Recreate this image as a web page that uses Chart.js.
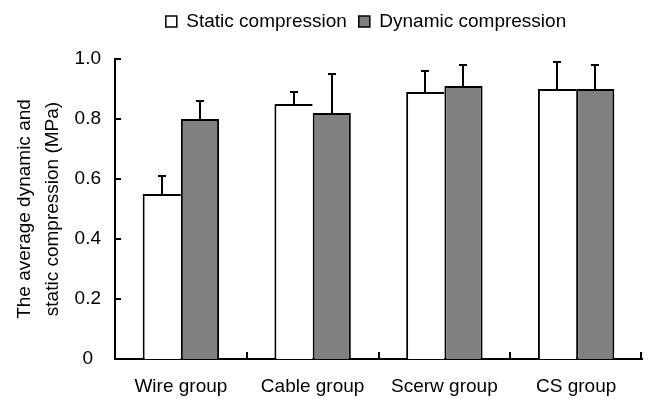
<!DOCTYPE html>
<html>
<head>
<meta charset="utf-8">
<style>
  html, body { margin: 0; padding: 0; background: #fff; }
  #wrap { width: 648px; height: 399px; }
</style>
<script src="https://cdn.jsdelivr.net/npm/chart.js@4/dist/chart.umd.min.js"></script>
</head>
<body>
<div id="wrap"><canvas id="c" width="648" height="399"></canvas></div>
<script>
// Group labels along the x axis
const groups = ['Wire group', 'Cable group', 'Scerw group', 'CS group'];

// Mean compression (MPa) and the standard deviations drawn as upper error bars
const staticMean = [0.55, 0.85, 0.89, 0.90];
const staticSD   = [0.06, 0.04, 0.07, 0.09];
const dynamicMean = [0.80, 0.82, 0.91, 0.90];
const dynamicSD   = [0.06, 0.13, 0.07, 0.08];

// Y axis tick range
const yMin = 0, yMax = 1.0, yStep = 0.2;

const FONT = 'Liberation Sans, Arial, Helvetica, sans-serif';
const FONT_SIZE = 19;
const INK = '#000';

// Upward error bars with a short cap, drawn on top of each bar
const errorBars = {
  id: 'errorBars',
  afterDatasetsDraw(chart) {
    const { ctx } = chart;
    const y = chart.scales.y;
    ctx.save();
    ctx.strokeStyle = INK;
    ctx.lineWidth = 2;
    chart.data.datasets.forEach((ds, di) => {
      const meta = chart.getDatasetMeta(di);
      meta.data.forEach((bar, i) => {
        const top = y.getPixelForValue(ds.data[i] + ds.errors[i]);
        const x = Math.round(bar.x);
        ctx.beginPath();
        ctx.moveTo(x, bar.y);
        ctx.lineTo(x, top);
        ctx.moveTo(x - 4, top);
        ctx.lineTo(x + 4, top);
        ctx.stroke();
      });
    });
    ctx.restore();
  }
};

// Inward tick marks: on the y axis at each tick value, on the x axis between groups
const innerTicks = {
  id: 'innerTicks',
  afterDraw(chart) {
    const { ctx, chartArea } = chart;
    const x = chart.scales.x, y = chart.scales.y;
    ctx.save();
    ctx.strokeStyle = INK;
    ctx.lineWidth = 2;
    ctx.beginPath();
    y.ticks.forEach(t => {
      const py = Math.round(y.getPixelForValue(t.value));
      ctx.moveTo(chartArea.left, py);
      ctx.lineTo(chartArea.left + 6, py);
    });
    for (let i = 0; i < groups.length; i++) {
      const px = i < groups.length - 1
        ? Math.round((x.getPixelForValue(i) + x.getPixelForValue(i + 1)) / 2)
        : chartArea.right - 1;
      ctx.moveTo(px, chartArea.bottom);
      ctx.lineTo(px, chartArea.bottom - 7);
    }
    ctx.stroke();
    ctx.restore();
  }
};

// Fixed legend band height and centre
const legendBand = {
  id: 'legendBand',
  beforeInit(chart) {
    const fit = chart.legend.fit;
    chart.legend.fit = function () {
      fit.call(this);
      this.height = 59;
    };
  },
  afterLayout(chart) {
    const lg = chart.legend;
    const shift = 366 - (lg.left + lg.right) / 2;
    lg.left += shift;
    lg.right += shift;
  }
};

new Chart(document.getElementById('c'), {
  type: 'bar',
  data: {
    labels: groups,
    datasets: [
      {
        label: 'Static compression',
        data: staticMean,
        errors: staticSD,
        backgroundColor: '#ffffff',
        borderColor: INK,
        borderWidth: { left: 2, top: 2, right: 0, bottom: 0 },
        borderSkipped: false
      },
      {
        label: 'Dynamic compression',
        data: dynamicMean,
        errors: dynamicSD,
        backgroundColor: '#808080',
        borderColor: INK,
        borderWidth: { left: 2, top: 2, right: 2, bottom: 0 },
        borderSkipped: false
      }
    ]
  },
  options: {
    responsive: false,
    animation: false,
    devicePixelRatio: 1,
    layout: { padding: { left: 0, right: 6, top: 0, bottom: 0 } },
    datasets: { bar: { categoryPercentage: 0.58, barPercentage: 1.0 } },
    plugins: {
      tooltip: { enabled: false },
      legend: {
        position: 'top',
        labels: {
          font: { family: FONT, size: FONT_SIZE },
          color: INK,
          boxWidth: 11,
          boxHeight: 11,
          padding: 12,
          generateLabels(chart) {
            return chart.data.datasets.map((ds, i) => ({
              text: ds.label,
              fillStyle: ds.backgroundColor,
              strokeStyle: INK,
              lineWidth: 1.5,
              fontColor: INK,
              hidden: false,
              datasetIndex: i
            }));
          }
        }
      }
    },
    scales: {
      x: {
        grid: { display: false, drawTicks: false },
        border: { display: true, color: INK, width: 2 },
        ticks: { color: INK, font: { family: FONT, size: FONT_SIZE }, padding: 16, maxRotation: 0 },
        afterFit(scale) { scale.height = 40; }
      },
      y: {
        min: yMin,
        max: yMax,
        grid: { display: false, drawTicks: false },
        border: { display: true, color: INK, width: 2 },
        ticks: {
          stepSize: yStep,
          color: INK,
          font: { family: FONT, size: FONT_SIZE },
          padding: 14,
          crossAlign: 'center',
          callback: v => (v === 0 ? '0' : v.toFixed(1))
        },
        title: {
          display: true,
          text: ['The average dynamic and', 'static compression (MPa)'],
          color: INK,
          font: { family: FONT, size: FONT_SIZE, lineHeight: 1.45 },
          padding: { top: 11, bottom: 0 }
        },
        afterFit(scale) { scale.width = 115; }
      }
    }
  },
  plugins: [errorBars, innerTicks, legendBand]
});
</script>
</body>
</html>
